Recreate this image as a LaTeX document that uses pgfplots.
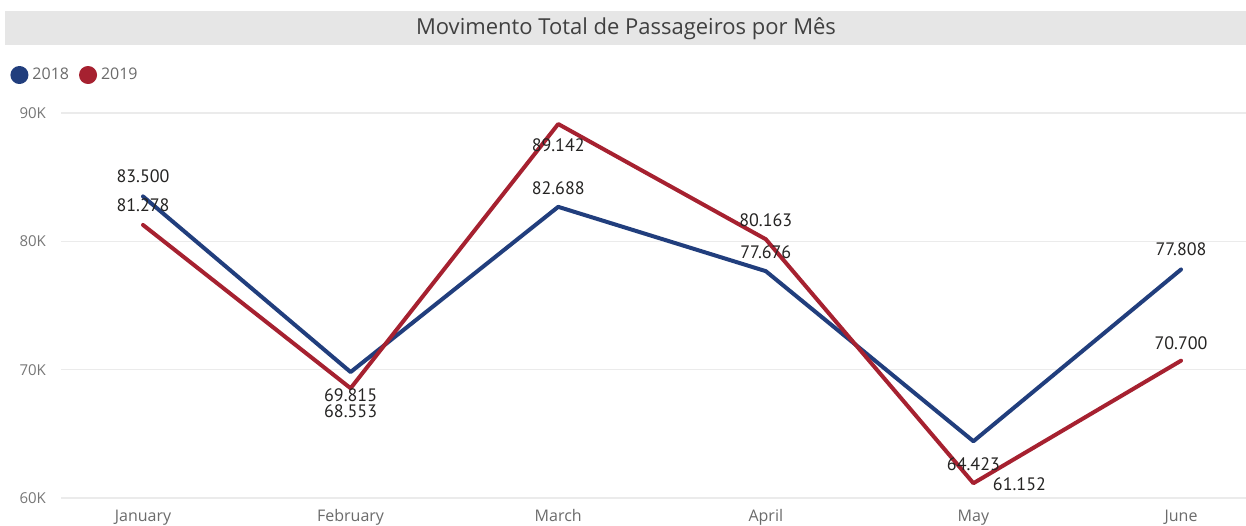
\documentclass[border=0pt]{standalone}
\usepackage{fontspec}
\setmainfont{Open Sans}
\newfontfamily\labfont{PT Sans}
\usepackage{pgfplots}
\usepackage{pgfplotstable}
\pgfplotsset{compat=1.18}
\definecolor{cblue}{RGB}{33,62,125}
\definecolor{cred}{RGB}{166,33,48}
\definecolor{tickgray}{RGB}{119,119,119}
\definecolor{labdark}{RGB}{37,36,35}
\definecolor{barbg}{RGB}{230,230,230}
\pgfplotstableread{
x y lab dx dy
0 83500 83.500 0 20
1 69815 69.815 0 -23
2 82688 82.688 0 19
3 77676 77.676 0 19
4 64423 64.423 0 -23
5 77808 77.808 0 20
}\tA
\pgfplotstableread{
x y lab dx dy
0 81278 81.278 0 20
1 68553 68.553 0 -23
2 89142 89.142 0 -21
3 80163 80.163 0 19
4 61152 61.152 46 -1
5 70700 70.700 0 17
}\tB
\begin{document}
\begin{tikzpicture}
\useasboundingbox (0,0) rectangle (623pt,-262.5pt);
\fill[white] (0,0) rectangle (623pt,-262.5pt);
\fill[barbg] (2.5pt,-5.5pt) rectangle (623pt,-22.5pt);
\node[font=\fontsize{11}{13}\selectfont, text=black!75, anchor=center] at (313pt,-14.5pt) {Movimento Total de Passageiros por Mês};
\begin{axis}[
  at={(30.5pt,-249pt)}, anchor=south west,
  scale only axis, width=592.5pt, height=192.5pt,
  xmin=-0.395, xmax=5.313, ymin=60000, ymax=90000,
  axis line style={draw=none},
  clip=false,
  scaled y ticks=false,
  xtick={0,1,2,3,4,5},
  xticklabels={January,February,March,April,May,June},
  ytick={60000,70000,80000,90000},
  yticklabels={60K,70K,80K,90K},
  tick style={draw=none},
  ymajorgrids, grid style={draw=black!8, line width=0.75pt},
  xticklabel style={anchor=base, yshift=-11.5pt, font=\fontsize{8}{9}\selectfont, text=tickgray!90!black},
  yticklabel style={anchor=east, xshift=-4pt, font=\fontsize{7.5}{9}\selectfont, text=tickgray},
  legend style={at={(-0.043,1.0987)}, anchor=west, draw=none, fill=none,
    legend columns=-1, font=\fontsize{8}{9}\selectfont, text=tickgray!90!black,
    /tikz/every even column/.append style={column sep=3pt},
    inner sep=0pt, legend cell align=left},
  legend image code/.code={\fill (0.25em,0pt) circle (3.5pt);},
  point meta=explicit symbolic,
  nodes near coords,
  visualization depends on={\thisrow{dx} \as \dx},
  visualization depends on={\thisrow{dy} \as \dy},
  every node near coord/.append style={anchor=center, xshift={\dx*0.5pt}, yshift={\dy*0.5pt}, font=\labfont\fontsize{9}{10}\selectfont, text=labdark, inner sep=0pt},
]
\addplot[cblue, line width=2pt, line join=round, line cap=round] table[x=x, y=y, meta=lab] {\tA};
\addlegendentry{2018}
\addplot[cred, line width=2pt, line join=round, line cap=round] table[x=x, y=y, meta=lab] {\tB};
\addlegendentry{2019}
\end{axis}
\end{tikzpicture}
\end{document}
